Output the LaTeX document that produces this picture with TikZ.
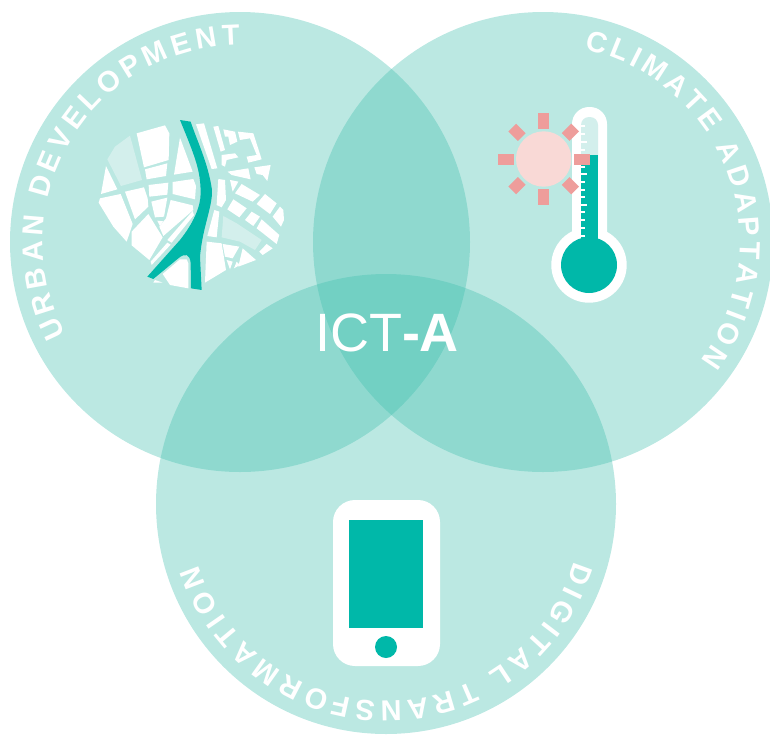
\documentclass[tikz,border=0pt]{standalone}
\usepackage{fontspec}
\setmainfont{Liberation Sans}
\usetikzlibrary{decorations.text}
\definecolor{vennteal}{RGB}{62,190,173}
\definecolor{darkteal}{RGB}{0,184,169}
\definecolor{paleteal}{RGB}{211,239,236}
\definecolor{sunpale}{RGB}{249,217,214}
\definecolor{sunray}{RGB}{238,157,155}
\tikzset{
  venn/.style={fill=vennteal,fill opacity=0.353},
  block/.style={fill=white},
  paleblock/.style={fill=paleteal},
  curved title/.style={decorate,decoration={text along path,raise=0pt,text align={fit to path},
      text={|\fontsize{29}{29}\selectfont\bfseries\color{white}|#1}}}
}
\begin{document}
\begin{tikzpicture}[x=1pt,y=-1pt]

        \useasboundingbox (0,0) rectangle (770,734);
        \clip (0,0) rectangle (770,734);
        \coordinate (urban) at (240,242);
        \coordinate (climate) at (543,242);
        \coordinate (digital) at (386,504);

        % draw the three circles
        \foreach \c in {urban,climate,digital} {
                \fill[venn] (\c) circle(230pt);
        }

        % draw the curved titles
        \path[curved title={URBAN DEVELOPMENT}] ([shift={(208:197pt)}]urban) arc[start angle=208,end angle=90,radius=197pt];
        \path[curved title={CLIMATE ADAPTATION}] ([shift={(78:197pt)}]climate) arc[start angle=78,end angle=-37,radius=197pt];
        \path[curved title={DIGITAL TRANSFORMATION}] ([shift={(-17:197pt)}]digital) arc[start angle=-17,end angle=-162,radius=197pt];

        % draw the centre label
        \node[text=white,font=\fontsize{54}{54}\selectfont] (title) at (387,333) {ICT\textbf{-A}};

        % draw the phone
        \fill[white,rounded corners=22pt] (333,500) rectangle (440,666);
        \fill[darkteal] (349,520) rectangle (423,628);
        \fill[darkteal] (386,647) circle(11pt);

        % draw the thermometer
        \fill[white,rounded corners=17pt] (572,107) -- (607,107) -- (607,250) -- (572,250) -- cycle;
        \fill[white] (589,265) circle(37.7pt);
        \fill[paleteal,rounded corners=8pt] (581,117) -- (598,117) -- (598,170) -- (581,170) -- cycle;
        \fill[darkteal] (581,155) rectangle (598,250);
        \fill[darkteal] (589,265) circle(28pt);
        \foreach \y in {126,134,142,150,158,167,174,182,190,197,205,212,220,228,236} {
                \fill[white] (581,\y-0.8) rectangle (585,\y+0.8);
        }
        \foreach \y in {142,174,205} {
                \fill[white] (581,\y-0.8) rectangle (587,\y+0.8);
        }

        % draw the sun
        \fill[sunpale] (543.7,159) circle(27.7pt);
        \foreach \x in {0,90,180,270} {
                \fill[sunray,shift={(543.7,159)},rotate=\x] (30pt,-5.5pt) rectangle (46pt,5.5pt);
        }
        \foreach \x in {45,135,225,315} {
                \fill[sunray,shift={(543.7,159)},rotate=\x] (31pt,-5.5pt) rectangle (44.5pt,5.5pt);
        }

        % draw the map, in thirds of a pixel
        \begin{scope}[shift={(80,100)},x=0.3333pt,y=-0.3333pt]
        \fill[block] (170,100) -- (255,76) -- (268,100) -- (266,180) -- (192,202) -- cycle;
        \fill[paleblock] (150,107) -- (186,240) -- (123,258) -- (82,178) -- (105,140) -- cycle;
        \fill[block] (78,198) -- (112,268) -- (63,282) -- cycle;
        \fill[block] (195,208) -- (262,190) -- (258,228) -- (200,238) -- cycle;
        \fill[block] (300,113) -- (338,215) -- (282,224) -- cycle;
        \fill[block] (206,255) -- (265,248) -- (262,284) -- (208,290) -- cycle;
        \fill[block] (278,246) -- (340,237) -- (348,258) -- (345,298) -- (278,282) -- cycle;
        \fill[block] (135,275) -- (192,262) -- (203,295) -- (205,320) -- (165,358) -- cycle;
        \fill[block] (56,308) -- (60,295) -- (122,282) -- (158,372) -- (140,425) -- (100,380) -- cycle;
        \fill[block] (214,305) -- (262,293) -- (252,350) -- (225,352) -- cycle;
        \fill[block] (272,300) -- (338,316) -- (340,330) -- (250,408) -- (238,380) -- (258,355) -- cycle;
        \fill[block] (205,342) -- (248,412) -- (208,480) -- (155,436) -- (155,395) -- cycle;
        \fill[block] (232,362) -- (250,364) -- (240,378) -- cycle;
        \fill[block] (338,333) -- (342,345) -- (275,428) -- (262,420) -- cycle;
        \fill[block] (262,428) -- (272,434) -- (215,495) -- (212,485) -- cycle;
        \fill[block] (320,478) -- (325,490) -- (325,565) -- (270,555) -- (248,522) -- (300,478) -- cycle;
        \fill[block] (225,540) -- (248,548) -- (220,548) -- cycle;
        \fill[block] (348,73) -- (372,70) -- (412,205) -- (395,207) -- cycle;
        \fill[block] (400,80) -- (415,78) -- (435,150) -- (422,155) -- cycle;
        \fill[block] (430,88) -- (465,95) -- (472,125) -- (450,135) -- (445,110) -- (435,110) -- cycle;
        \fill[block] (474,95) -- (520,100) -- (545,178) -- (505,188) -- (500,170) -- (530,165) -- (510,115) -- (480,120) -- cycle;
        \fill[block] (425,165) -- (465,160) -- (475,172) -- (440,180) -- (435,200) -- (425,195) -- cycle;
        \fill[block] (443,215) -- (505,205) -- (512,238) -- (455,225) -- cycle;
        \fill[block] (523,202) -- (572,195) -- (562,243) -- (548,225) -- (530,222) -- cycle;
        \fill[block] (415,237) -- (435,240) -- (438,300) -- (425,322) -- (410,315) -- cycle;
        \fill[block] (450,240) -- (475,245) -- (458,275) -- cycle;
        \fill[block] (485,252) -- (540,285) -- (518,305) -- (465,280) -- cycle;
        \fill[block] (555,282) -- (590,310) -- (570,342) -- (530,312) -- cycle;
        \fill[block] (460,298) -- (500,325) -- (478,352) -- (442,328) -- cycle;
        \fill[block] (610,330) -- (612,360) -- (603,380) -- (578,350) -- (600,320) -- cycle;
        \fill[block] (515,335) -- (540,350) -- (520,378) -- (495,360) -- cycle;
        \fill[block] (545,358) -- (598,405) -- (590,432) -- (530,385) -- cycle;
        \fill[paleblock] (430,348) -- (470,370) -- (545,420) -- (525,450) -- (480,425) -- (425,412) -- cycle;
        \fill[block] (403,330) -- (418,335) -- (410,412) -- (382,408) -- cycle;
        \fill[block] (380,425) -- (425,430) -- (438,510) -- (375,548) -- cycle;
        \fill[block] (428,432) -- (478,440) -- (458,475) -- (435,470) -- cycle;
        \fill[block] (488,445) -- (528,480) -- (475,500) -- cycle;
        \fill[block] (560,432) -- (578,445) -- (548,465) -- (538,455) -- cycle;
        \fill[block] (440,480) -- (458,485) -- (450,508) -- cycle;
        \fill[block] (470,485) -- (480,495) -- (462,505) -- cycle;
        % the river
        \fill[darkteal] (300,60) -- (332,65) .. controls (350,120) and (385,190) .. (396,270)
                .. controls (398,320) and (368,380) .. (360,470) -- (365,570) -- (333,565) -- (332,490)
                .. controls (330,462) and (315,458) .. (295,475) -- (220,537) -- (202,530) -- (300,420)
                .. controls (340,370) and (362,320) .. (362,280) .. controls (362,210) and (345,170) .. (300,60) -- cycle;
        \end{scope}
\end{tikzpicture}
\end{document}
